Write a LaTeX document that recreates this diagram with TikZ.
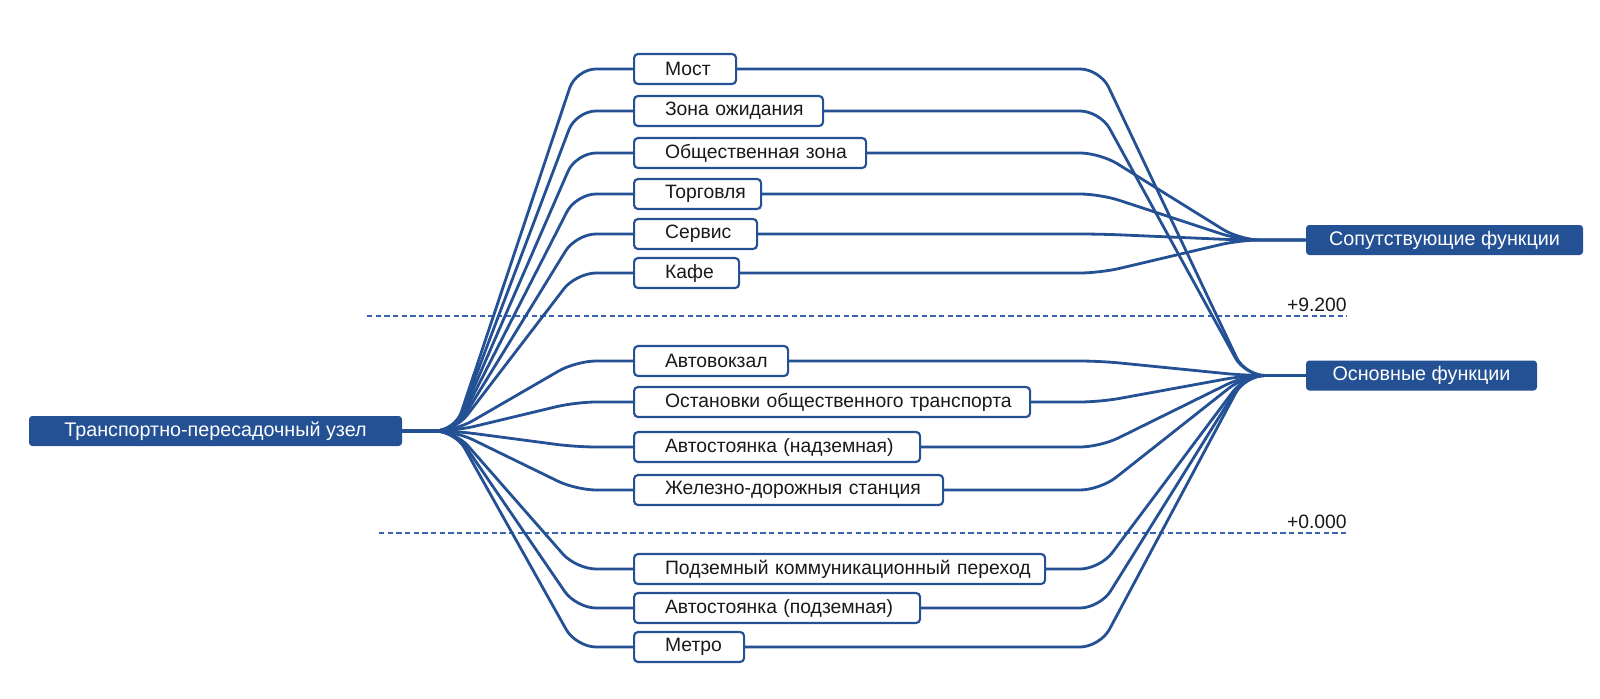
\documentclass[tikz,border=0pt]{standalone}
\usepackage{fontspec}
\setmainfont{Liberation Sans}
\definecolor{tblue}{RGB}{36,80,148}
\definecolor{dblue}{RGB}{55,100,180}
\begin{document}
\begin{tikzpicture}[x=0.75pt,y=-0.75pt,
  rootbox/.style={fill=tblue, draw=none, rounded corners=2.5pt, text=white,
    font=\fontsize{14.8}{17}\selectfont, minimum height=22.5pt, inner sep=0pt},
  itembox/.style={draw=tblue, line width=1.6pt, rounded corners=3pt, fill=white,
    text=black!90, font=\fontsize{14.5}{17}\selectfont, minimum height=22.5pt,
    inner xsep=0pt, inner ysep=0pt, align=left, anchor=west, text width=#1},
  conn/.style={draw=tblue, line width=2.1pt, rounded corners=15pt},
  lvl/.style={draw=dblue, line width=0.8pt, dash pattern=on 4pt off 2.5pt},
  lvltext/.style={font=\fontsize{14.5}{17}\selectfont, text=black!90, anchor=base east, inner sep=0pt}
]
\useasboundingbox (0,0) rectangle (1600,699);

% level lines
\draw[lvl] (367,316) coordinate (d1a) -- (1347,316) coordinate (d1b);
\node[lvltext] (l1) at (1347,311) {+9.200};
\draw[lvl] (379,533) coordinate (d2a) -- (1347,533) coordinate (d2b);
\node[lvltext] (l2) at (1347,528) {+0.000};

% main nodes
\node[rootbox, minimum width=279.75pt] (root) at (215.5,431) {Транспортно-пересадочный узел};
\node[rootbox, minimum width=207.75pt] (sop) at (1444.5,240) {Сопутствующие функции};
\node[rootbox, minimum width=173.25pt] (osn) at (1421.5,375.5) {Основные функции};

% items
\newcommand{\pad}{\hspace*{23.25pt}}
\node[itembox=76.5pt]   (most) at (633,69)  {\pad Мост};
\node[itembox=141.75pt] (zona) at (633,111) {\pad Зона ожидания};
\node[itembox=174pt]    (obsh) at (633,153) {\pad Общественная зона};
\node[itembox=95.25pt]  (torg) at (633,194) {\pad Торговля};
\node[itembox=92.25pt]  (serv) at (633,234) {\pad Сервис};
\node[itembox=78.75pt]  (kafe) at (633,273) {\pad Кафе};
\node[itembox=115.5pt]  (avto) at (633,361) {\pad Автовокзал};
\node[itembox=297pt]    (ost)  at (633,402) {\pad Остановки общественного транспорта};
\node[itembox=214.5pt]  (nadz) at (633,447) {\pad Автостоянка (надземная)};
\node[itembox=231.75pt] (zhel) at (633,490) {\pad Железно-дорожныя станция};
\node[itembox=308.25pt] (podp) at (633,569) {\pad Подземный коммуникационный переход};
\node[itembox=214.5pt]  (podz) at (633,608) {\pad Автостоянка (подземная)};
\node[itembox=82.5pt]   (metro) at (633,647) {\pad Метро};

% helper coordinates
\coordinate (AL) at (455,431);
\coordinate (AS) at (1240,240);
\coordinate (AO) at (1245,375.5);
\coordinate (LX) at (576,0);
\coordinate (RX) at (1100,0);

% left fan
\foreach \n in {most,zona,obsh,torg,serv,kafe,avto,ost,nadz,zhel,podp,podz,metro}
  \draw[conn] (root.east) -- (AL) -- (LX |- \n.west) -- (\n.west);

% right fans
\foreach \n in {obsh,torg,serv,kafe}
  \draw[conn] (\n.east) -- (RX |- \n.east) -- (AS) -- (sop.west);
\foreach \n in {most,zona,avto,ost,nadz,zhel,podp,podz,metro}
  \draw[conn] (\n.east) -- (RX |- \n.east) -- (AO) -- (osn.west);
\end{tikzpicture}
\end{document}
